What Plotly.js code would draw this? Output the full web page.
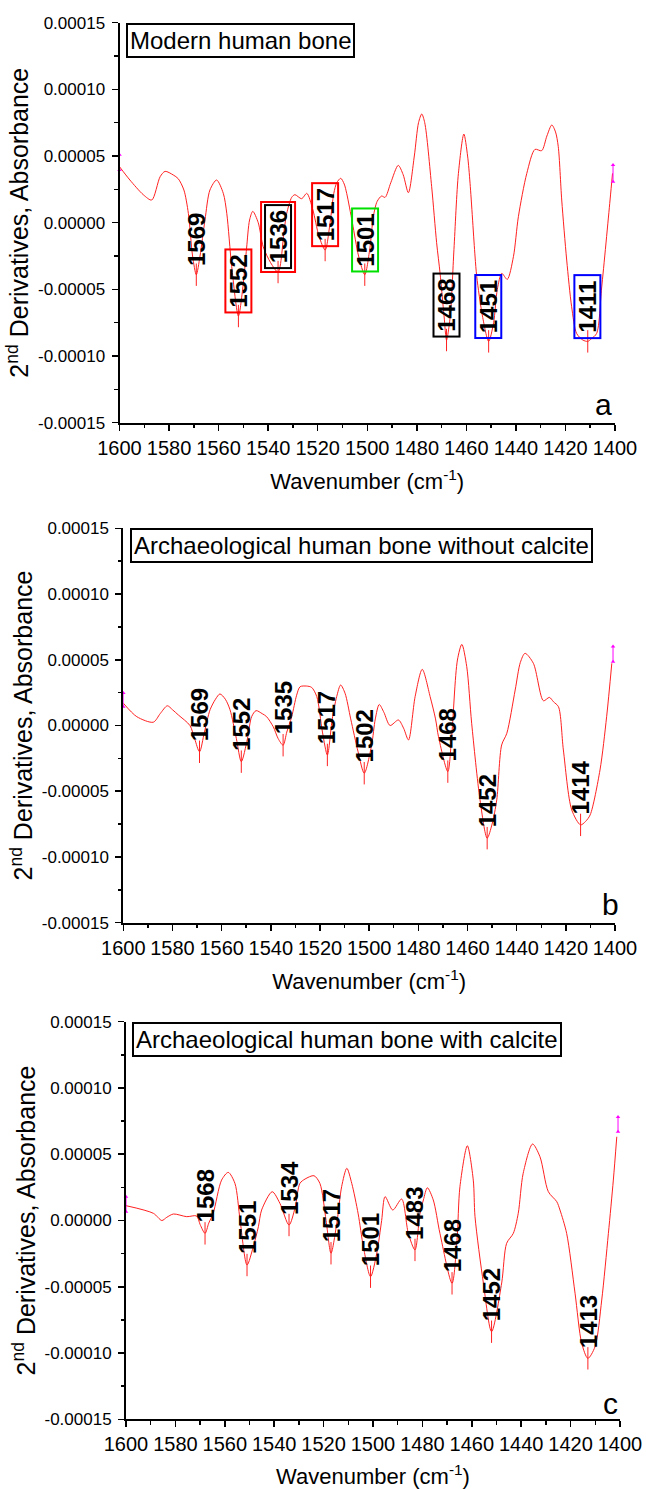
<!DOCTYPE html>
<html>
<head>
<meta charset="utf-8">
<script src="https://cdn.plot.ly/plotly-3.0.1.min.js"></script>
<style>html,body{margin:0;padding:0;background:#fff;}#chart{width:646px;height:1489px;}</style>
</head>
<body>
<div id="chart"></div>
<script>
// ---------------- data ----------------
// Panel a: Modern human bone
const waveA = [1600,1595.8,1590.4,1587,1583.6,1581.6,1578.3,1576.3,1574,1572.2,1570.5,1569,1567.5,1565.5,1563.5,1560.8,1558.1,1556.7,1554.7,1552,1550,1548.7,1547.5,1546.2,1544,1542,1539,1536,1533.5,1532.5,1530.5,1529.2,1526.5,1524.4,1522,1519.5,1517,1515,1513.5,1512.3,1510.7,1509.3,1508.3,1506,1503.5,1501,1499,1497.5,1496,1494.2,1492.8,1490.5,1487.5,1485.5,1483.4,1481,1479.3,1478,1476.8,1474,1472,1470.6,1469,1468,1466.5,1465,1463.2,1461,1459.5,1458.5,1456.5,1455.8,1453.5,1451,1449,1447.5,1445.7,1443.5,1441,1439,1435.6,1432.3,1429.6,1427.5,1425.5,1424,1422.9,1421.5,1419.5,1417.5,1415.5,1413,1411,1409.5,1407.4,1405.4,1402,1401];
const valA  = [4.2e-5,3.2e-5,2.1e-5,1.7e-5,3.45e-5,3.85e-5,3.58e-5,3.3e-5,2.45e-5,0.7e-5,-2.5e-5,-3.9e-5,-2.5e-5,0.2e-5,2.45e-5,3.2e-5,2.2e-5,0.7e-5,-3.3e-5,-7.0e-5,-4.5e-5,-1.9e-5,0.2e-5,0.85e-5,0.0,-1.8e-5,-3.0e-5,-3.7e-5,-0.5e-5,0.7e-5,1.9e-5,2.1e-5,1.8e-5,2.2e-5,1.0e-5,-1.0e-5,-2.05e-5,0.0,2.2e-5,3.0e-5,3.33e-5,2.9e-5,2.2e-5,0.0,-2.5e-5,-3.9e-5,-2.0e-5,0.5e-5,1.6e-5,2.0e-5,1.9e-5,3.0e-5,4.3e-5,3.6e-5,2.25e-5,5.0e-5,7.5e-5,8.15e-5,7.5e-5,2.7e-5,-1.5e-5,-3.8e-5,-7.0e-5,-8.8e-5,-7.0e-5,-2.0e-5,3.7e-5,6.65e-5,5.0e-5,2.95e-5,-2.5e-5,-4.05e-5,-7.0e-5,-8.9e-5,-7.5e-5,-5.0e-5,-3.8e-5,-4.25e-5,-2.55e-5,0.45e-5,3.7e-5,5.5e-5,5.4e-5,6.5e-5,7.33e-5,6.8e-5,5.7e-5,1.7e-5,-2.8e-5,-6.3e-5,-8.3e-5,-8.8e-5,-8.9e-5,-8.7e-5,-8.3e-5,-4.9e-5,1.7e-5,3.7e-5];
const peaksA = [1569,1552,1536,1517,1501,1468,1451,1411];
const troughA = [-3.9e-5,-7.0e-5,-3.7e-5,-2.05e-5,-3.9e-5,-8.8e-5,-8.9e-5,-8.9e-5];
const cursorA = {left:[5.1e-5,3.95e-5], right:[4.33e-5,3.07e-5]};

// Panel b: Archaeological human bone without calcite
const waveB = [1600,1594.5,1587.8,1585,1582.1,1580,1577.6,1572.9,1571,1569,1567,1564.7,1562.5,1560.7,1558.5,1556.6,1554,1552,1549.5,1547.8,1546,1543.5,1541.7,1539,1537,1535,1533.5,1531.5,1529.5,1528.1,1525.5,1523.4,1521.3,1519,1517,1515,1513.2,1511.6,1509.8,1507.5,1504.5,1502,1499,1497.5,1495.9,1494,1491.5,1488.1,1486,1484,1481.3,1478.4,1475.2,1473,1471.8,1468,1466.5,1464.1,1462.3,1460.3,1458.3,1454.9,1452,1450,1448.1,1446.1,1444,1440.6,1438.5,1436.6,1433.2,1429.1,1426.7,1425,1423,1421,1417.6,1414,1412,1410.1,1406.1,1403.4,1401.3];
const valB  = [1.7e-5,0.67e-5,0.25e-5,0.9e-5,1.5e-5,1.2e-5,0.8e-5,0.0,-1.0e-5,-2.0e-5,-0.5e-5,1.2e-5,2.0e-5,2.4e-5,2.0e-5,1.2e-5,-1.0e-5,-2.75e-5,-1.0e-5,0.67e-5,1.13e-5,0.9e-5,0.67e-5,-0.1e-5,-1.0e-5,-1.5e-5,-0.5e-5,0.67e-5,2.3e-5,2.95e-5,3.0e-5,2.9e-5,2.2e-5,-0.5e-5,-2.24e-5,0.5e-5,2.2e-5,3.08e-5,2.45e-5,0.5e-5,-2.0e-5,-3.63e-5,-1.5e-5,0.5e-5,1.6e-5,1.0e-5,0.0,0.42e-5,-0.2e-5,-1.1e-5,2.2e-5,4.27e-5,2.2e-5,0.5e-5,-0.85e-5,-3.51e-5,-1.0e-5,4.98e-5,6.17e-5,4.47e-5,0.17e-5,-5.66e-5,-8.57e-5,-7.5e-5,-5.66e-5,-1.48e-5,-0.59e-5,2.7e-5,4.8e-5,5.49e-5,4.73e-5,1.88e-5,2.14e-5,1.8e-5,1.43e-5,-1.86e-5,-6.42e-5,-7.56e-5,-7.3e-5,-6.8e-5,-3.38e-5,0.67e-5,4.73e-5];
const peaksB = [1569,1552,1535,1517,1502,1468,1452,1414];
const troughB = [-2.0e-5,-2.75e-5,-1.5e-5,-2.24e-5,-3.63e-5,-3.51e-5,-8.57e-5,-7.56e-5];
const cursorB = {left:[2.47e-5,1.43e-5], right:[6.0e-5,4.85e-5]};

// Panel c: Archaeological human bone with calcite
const waveC = [1600,1588.9,1585.5,1583.5,1580.8,1575.4,1571.4,1570,1568,1566.5,1564.7,1561.3,1558.6,1555.9,1553.8,1551,1548.5,1546.4,1545.1,1540.8,1537.7,1534,1531.5,1529.6,1527.5,1523.9,1521.5,1519,1517,1514.5,1512.7,1510.6,1508.6,1506,1503.9,1501,1498.5,1496.5,1495.1,1492,1488.4,1485.7,1483,1481,1479.6,1478,1475.6,1472.9,1468,1466,1464.8,1461.8,1459.4,1458.7,1455.3,1452,1447.9,1445.9,1443.2,1441.2,1439.2,1435.4,1432.4,1429,1425.6,1424.3,1421.6,1418.2,1415.5,1413,1410.1,1407.4,1404.7,1402.7,1401.3];
const valC  = [1.12e-5,0.54e-5,0.0,0.24e-5,0.49e-5,0.29e-5,0.34e-5,-0.3e-5,-0.97e-5,-0.2e-5,0.54e-5,3.05e-5,3.63e-5,2.8e-5,0.0,-3.36e-5,-2.0e-5,-0.47e-5,0.79e-5,2.17e-5,1.3e-5,-0.34e-5,1.0e-5,2.8e-5,3.13e-5,3.38e-5,2.8e-5,0.0,-2.47e-5,0.0,2.55e-5,3.94e-5,2.8e-5,0.5e-5,-1.98e-5,-4.24e-5,-2.5e-5,0.0,1.8e-5,0.79e-5,1.62e-5,-0.97e-5,-2.22e-5,0.5e-5,1.55e-5,2.47e-5,1.55e-5,-0.97e-5,-4.74e-5,-1.5e-5,2.55e-5,5.64e-5,3.05e-5,0.29e-5,-4.74e-5,-8.39e-5,-4.71e-5,-1.72e-5,-0.97e-5,0.54e-5,3.56e-5,5.77e-5,4.81e-5,2.17e-5,1.42e-5,0.79e-5,-0.97e-5,-5.49e-5,-9.26e-5,-10.4e-5,-9.52e-5,-6.0e-5,-0.97e-5,3.05e-5,6.32e-5];
const peaksC = [1568,1551,1534,1517,1501,1483,1468,1452,1413];
const troughC = [-0.97e-5,-3.36e-5,-0.34e-5,-2.47e-5,-4.24e-5,-2.22e-5,-4.74e-5,-8.39e-5,-10.4e-5];
const cursorC = {left:[1.8e-5,0.66e-5], right:[7.8e-5,6.7e-5]};

const panelTitles = ['Modern human bone','Archaeological human bone without calcite','Archaeological human bone with calcite'];
const panelLetters = ['a','b','c'];
const yTickVals = [0.00015,0.0001,0.00005,0,-0.00005,-0.0001,-0.00015];
const yTickText = ['0.00015','0.00010','0.00005','0.00000','-0.00005','-0.00010','-0.00015'];
const xTitle = 'Wavenumber (cm<sup>-1</sup>)';
const yTitle = '2<sup>nd</sup> Derivatives, Absorbance';

// ---------------- layout constants (pixels) ----------------
const W = 646, H = 1489;
const FONT = 'Liberation Sans, Arial, sans-serif';
const RED = '#ff2020';
const panels = [
  {wave: waveA, val: valA, peaks: peaksA, trough: troughA, cursor: cursorA, px: [119.5, 615], py: [22.7, 422.7], title: [126, 23.3], letter: [603, 405], shift: 35},
  {wave: waveB, val: valB, peaks: peaksB, trough: troughB, cursor: cursorB, px: [123.3, 615], py: [528.3, 922.7], title: [130, 528.3], letter: [610, 905], shift: 37},
  {wave: waveC, val: valC, peaks: peaksC, trough: troughC, cursor: cursorC, px: [126, 620], py: [1021.7, 1419.3], title: [131.7, 1021.7], letter: [610, 1403], shift: 37}
];
// box styles for panel a labels
const boxStyleA = {1552:'#ff0000',1536:'#000000',1517:'#ff0000',1501:'#00e000',1468:'#000000',1451:'#0000ff',1411:'#0000ff'};

const data = [];
const layout = {
  width: W, height: H,
  margin: {l: 0, r: 0, t: 0, b: 0},
  paper_bgcolor: '#fff', plot_bgcolor: 'rgba(0,0,0,0)',
  showlegend: false,
  font: {family: FONT, color: '#000'},
  annotations: [], shapes: []
};

panels.forEach((p, i) => {
  const sfx = i === 0 ? '' : String(i + 1);
  const xa = 'x' + sfx, ya = 'y' + sfx;
  // curve
  data.push({x: p.wave, y: p.val, xaxis: xa, yaxis: ya, type: 'scatter', mode: 'lines',
    line: {color: RED, width: 1, shape: 'spline', smoothing: 0.8}, hoverinfo: 'skip'});
  // peak markers
  data.push({x: p.peaks, y: p.trough, xaxis: xa, yaxis: ya, type: 'scatter', mode: 'markers',
    marker: {symbol: 'line-ns-open', size: 16, color: RED, line: {color: RED, width: 1}}, hoverinfo: 'skip'});
  // cursors (magenta) at both ends
  data.push({x: [1600, 1600], y: p.cursor.left, xaxis: xa, yaxis: ya, type: 'scatter', mode: 'lines+markers', cliponaxis: false,
    line: {color: '#ff00ff', width: 1}, marker: {symbol: 'triangle-up', size: 4, color: '#ff00ff'}, hoverinfo: 'skip'});
  data.push({x: [1400.8, 1400.8], y: p.cursor.right, xaxis: xa, yaxis: ya, type: 'scatter', mode: 'lines+markers', cliponaxis: false,
    line: {color: '#ff00ff', width: 1}, marker: {symbol: 'triangle-up', size: 4, color: '#ff00ff'}, hoverinfo: 'skip'});

  const xkey = 'xaxis' + sfx, ykey = 'yaxis' + sfx;
  layout[xkey] = {
    domain: [p.px[0] / W, p.px[1] / W], anchor: ya,
    range: [1600, 1400], tickmode: 'linear', tick0: 1400, dtick: 20,
    ticks: 'outside', ticklen: 6, tickwidth: 1.5, tickcolor: '#000',
    minor: {tickmode: 'linear', tick0: 1400, dtick: 10, ticks: 'outside', ticklen: 3.5, tickwidth: 1.5, tickcolor: '#000'},
    showline: true, linecolor: '#000', linewidth: 2, showgrid: false, zeroline: false,
    tickfont: {size: 20, family: FONT, color: '#000'},
    title: {text: xTitle, font: {size: 22, family: FONT, color: '#000'}, standoff: 16},
    automargin: false
  };
  layout[ykey] = {
    domain: [1 - p.py[1] / H, 1 - p.py[0] / H], anchor: xa,
    range: [-0.00015, 0.00015], tickmode: 'array', tickvals: yTickVals, ticktext: yTickText,
    ticks: 'outside', ticklen: 6, tickwidth: 1.5, tickcolor: '#000', ticklabelstandoff: 3,
    minor: {tickmode: 'linear', tick0: 0, dtick: 0.000025, ticks: 'outside', ticklen: 3.5, tickwidth: 1.5, tickcolor: '#000'},
    showline: true, linecolor: '#000', linewidth: 2, showgrid: false, zeroline: false,
    tickfont: {size: 17, family: FONT, color: '#000'},
    title: {text: yTitle, font: {size: 25, family: FONT, color: '#000'}, standoff: 2},
    automargin: false
  };

  // panel title box
  layout.annotations.push({xref: 'paper', yref: 'paper', x: p.title[0] / W, y: 1 - p.title[1] / H,
    xanchor: 'left', yanchor: 'top', showarrow: false, text: panelTitles[i],
    font: {size: 24, family: FONT, color: '#000'}, bordercolor: '#000', borderwidth: 2, borderpad: 2, bgcolor: '#fff'});
  // panel letter
  layout.annotations.push({xref: 'paper', yref: 'paper', x: p.letter[0] / W, y: 1 - p.letter[1] / H,
    xanchor: 'center', yanchor: 'middle', showarrow: false, text: panelLetters[i],
    font: {size: 30, family: FONT, color: '#000'}});

  // peak labels
  p.peaks.forEach((pk, k) => {
    const ann = {xref: xa, yref: ya, x: pk, y: p.trough[k], yshift: p.shift, showarrow: false,
      text: String(pk), textangle: -90, xanchor: 'center', yanchor: 'middle',
      font: {size: 24, family: FONT, color: '#000', weight: 'bold'}};
    if (i === 0 && boxStyleA[pk]) {
      Object.assign(ann, {width: 59, height: 22, borderpad: 1, borderwidth: 2, bordercolor: boxStyleA[pk]});
    }
    layout.annotations.push(ann);
    if (i === 0 && pk === 1536) {
      layout.shapes.push({type: 'rect', xref: xa, yref: ya, xsizemode: 'pixel', ysizemode: 'pixel',
        xanchor: pk, yanchor: p.trough[k], x0: -17, x1: 17, y0: p.shift - 35, y1: p.shift + 35,
        line: {color: '#ff0000', width: 2}});
    }
  });
});

Plotly.newPlot('chart', data, layout, {staticPlot: true, displayModeBar: false});
</script>
</body>
</html>
